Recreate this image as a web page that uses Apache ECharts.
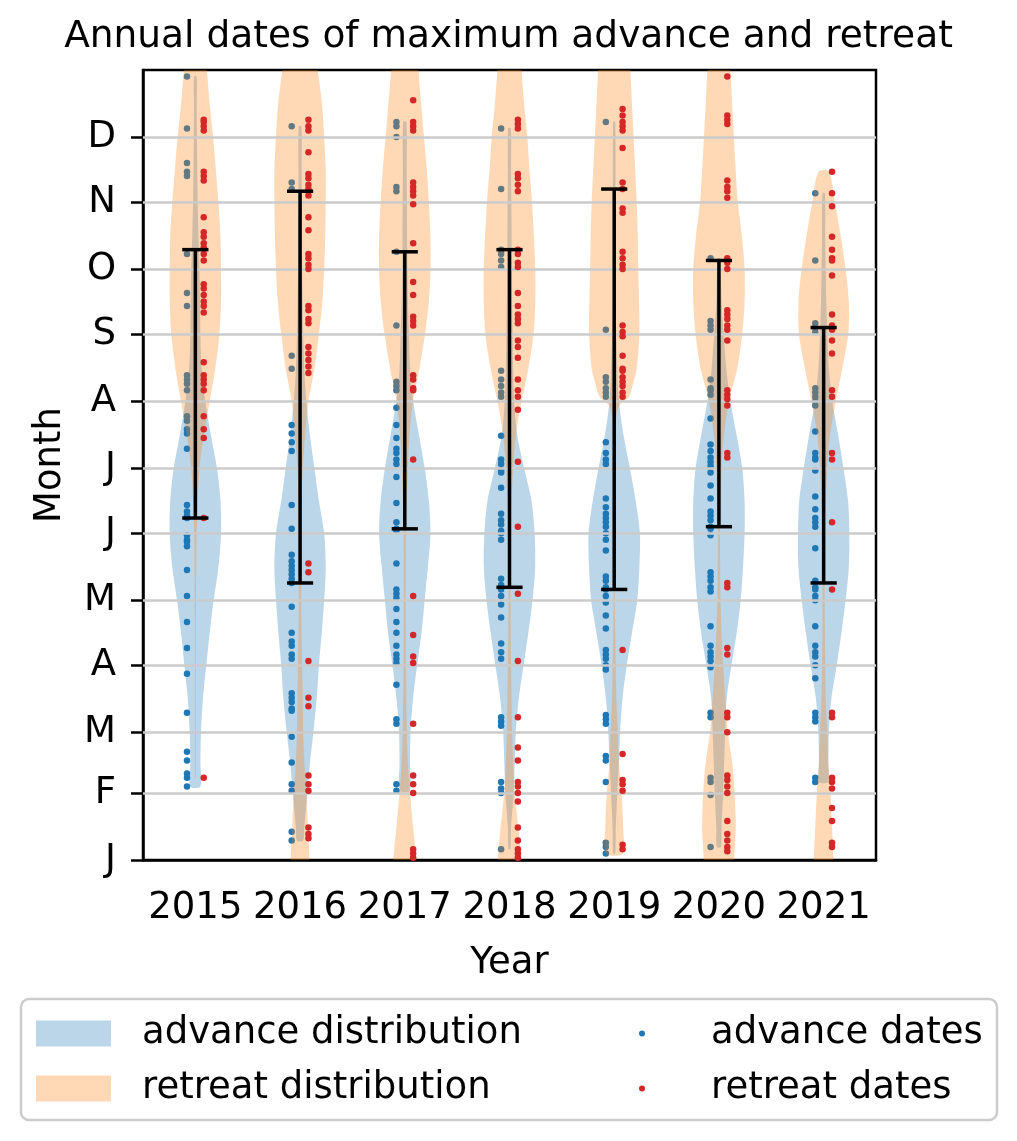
<!DOCTYPE html>
<html>
<head>
<meta charset="utf-8">
<script src="https://cdn.jsdelivr.net/npm/echarts@6/dist/echarts.min.js"></script>
<style>
html, body { margin: 0; padding: 0; background: #fff; }
#chart { width: 1017px; height: 1141px; }
</style>
</head>
<body>
<div id="chart"></div>
<script>
var years = ['2015', '2016', '2017', '2018', '2019', '2020', '2021'];
var monthStarts = [0, 31, 59, 90, 120, 151, 181, 212, 243, 273, 304, 334];
var monthLetters = ['J', 'F', 'M', 'A', 'M', 'J', 'J', 'A', 'S', 'O', 'N', 'D'];

// day of year of the maximum advance, one list per year
var advanceDates = [
	[362,338,322,318,316,280,262,256,224,222,220,217,205,203,199,197,190,164,161,159,158,150,148,147,145,134,122,110,98,86,68,50,46,40,38,34],
	[339,313,310,233,227,201,197,193,189,164,153,141,138,136,134,132,130,128,117,105,101,99,95,93,77,75,73,70,69,57,45,35,32,13,9],
	[341,339,334,311,309,281,247,221,219,217,209,201,195,190,188,185,183,177,165,156,153,152,137,125,123,121,116,110,105,99,95,93,91,81,65,63,35,32],
	[338,310,282,280,277,274,226,222,219,216,214,196,185,183,180,179,172,160,157,155,152,151,148,130,127,125,122,118,112,100,96,93,66,64,62,36,33,31,5],
	[341,245,223,221,218,216,214,193,188,185,183,167,163,160,158,156,154,151,148,143,131,129,126,125,122,119,113,107,97,95,93,90,88,67,65,63,48,46,36,8,6,3],
	[278,249,247,245,222,218,217,215,204,192,189,186,184,182,179,173,167,161,159,157,154,153,150,133,131,129,126,124,108,99,96,94,92,89,68,66,38,36,30,6],
	[308,277,248,246,244,218,216,214,212,210,198,188,186,185,180,168,162,158,156,154,144,129,126,125,122,120,108,99,96,94,90,84,68,66,64,38,36]
];

// day of year of the maximum retreat, one list per year
var retreatDates = [
	[342,341,339,337,318,316,314,297,290,288,285,283,280,277,266,264,261,258,256,253,230,224,222,220,217,205,199,195,158,38],
	[342,339,337,327,317,315,312,310,307,297,291,280,278,275,273,256,254,250,248,237,234,231,228,225,137,133,92,75,71,39,35,32,15,12,10],
	[351,341,339,337,313,311,309,307,303,285,267,261,251,249,247,224,222,218,217,185,122,104,94,91,63,39,35,31,5,3,1],
	[342,340,338,317,315,312,309,282,280,276,274,262,256,252,250,248,240,237,232,222,217,214,208,184,154,123,92,66,52,46,36,34,31,27,15,9,5,3,1],
	[347,344,341,339,337,329,313,310,301,299,281,278,275,273,247,244,242,233,227,226,223,221,219,216,214,97,49,37,35,32,7,5],
	[362,344,342,340,314,311,309,306,278,276,273,254,252,250,247,245,240,217,215,213,210,188,186,128,126,98,95,68,66,59,39,37,34,31,18,12,9,6,4],
	[318,308,302,288,282,278,277,270,252,247,245,240,234,217,214,188,185,156,125,68,66,38,36,33,24,18,8,6]
];

// black bars from advance to retreat
var barLow = [158, 128, 153, 126, 125, 154, 128];
var barHigh = [282, 309, 281, 282, 310, 277, 246];

// violin outlines: [day, half width in years]
var advanceViolins = [
	[[34,0.048],[45,0.048],[59,0.054],[75,0.073],[90,0.105],[105,0.137],[120,0.175],[135,0.22],[151,0.245],[166,0.24],[181,0.207],[196,0.15],[212,0.095],[227,0.06],[243,0.048],[258,0.045],[273,0.04],[288,0.03],[304,0.022],[319,0.018],[334,0.015],[349,0.013],[362,0.012]],
	[[9,0.03],[15,0.04],[31,0.07],[45,0.095],[59,0.127],[75,0.16],[90,0.18],[105,0.207],[120,0.23],[135,0.245],[151,0.23],[166,0.18],[181,0.137],[196,0.095],[212,0.06],[227,0.04],[243,0.03],[258,0.025],[273,0.02],[288,0.018],[304,0.016],[319,0.015],[339,0.013]],
	[[32,0.048],[45,0.05],[59,0.055],[75,0.08],[90,0.118],[105,0.16],[120,0.19],[135,0.22],[151,0.245],[166,0.23],[181,0.19],[196,0.137],[212,0.08],[227,0.05],[243,0.04],[258,0.03],[273,0.025],[288,0.022],[304,0.02],[319,0.018],[341,0.015]],
	[[5,0.01],[15,0.015],[31,0.04],[45,0.05],[59,0.06],[75,0.09],[90,0.135],[105,0.18],[120,0.22],[135,0.245],[151,0.24],[166,0.21],[181,0.14],[196,0.075],[212,0.045],[227,0.035],[243,0.03],[258,0.025],[273,0.022],[288,0.02],[304,0.018],[319,0.015],[338,0.013]],
	[[3,0.01],[15,0.015],[31,0.03],[45,0.045],[59,0.056],[75,0.08],[90,0.12],[105,0.17],[120,0.22],[135,0.24],[151,0.245],[166,0.205],[181,0.15],[196,0.09],[212,0.045],[227,0.03],[243,0.02],[258,0.014],[290,0.012],[341,0.01]],
	[[6,0.02],[15,0.025],[31,0.04],[45,0.05],[59,0.06],[75,0.075],[90,0.12],[105,0.17],[120,0.207],[135,0.23],[151,0.245],[166,0.245],[181,0.223],[196,0.17],[212,0.11],[227,0.07],[243,0.045],[258,0.025],[278,0.012]],
	[[36,0.042],[45,0.045],[59,0.05],[75,0.075],[90,0.125],[105,0.17],[120,0.21],[135,0.24],[151,0.245],[166,0.233],[181,0.19],[196,0.14],[212,0.083],[227,0.05],[243,0.035],[258,0.025],[273,0.02],[288,0.015],[308,0.012]]
];
var retreatViolins = [
	[[38,0.004],[59,0.004],[90,0.004],[120,0.006],[135,0.008],[151,0.012],[166,0.022],[181,0.04],[196,0.08],[212,0.137],[227,0.19],[243,0.23],[258,0.245],[273,0.245],[288,0.24],[304,0.22],[319,0.195],[334,0.17],[349,0.137],[365,0.11],[375,0.09]],
	[[-10,0.085],[0,0.09],[15,0.075],[31,0.06],[45,0.04],[59,0.03],[75,0.025],[90,0.02],[105,0.015],[120,0.012],[151,0.012],[166,0.015],[181,0.025],[196,0.048],[212,0.08],[227,0.137],[243,0.18],[258,0.213],[273,0.23],[288,0.24],[304,0.245],[319,0.245],[334,0.23],[349,0.21],[365,0.17],[375,0.15]],
	[[-10,0.12],[0,0.11],[15,0.08],[31,0.05],[45,0.03],[59,0.02],[75,0.015],[90,0.012],[105,0.01],[135,0.01],[151,0.012],[166,0.018],[181,0.03],[196,0.045],[212,0.078],[227,0.14],[243,0.193],[258,0.23],[273,0.246],[288,0.245],[304,0.23],[319,0.21],[334,0.183],[349,0.157],[365,0.13],[375,0.12]],
	[[-10,0.12],[0,0.113],[15,0.085],[31,0.05],[45,0.035],[59,0.025],[75,0.02],[90,0.015],[105,0.012],[120,0.01],[135,0.01],[151,0.012],[166,0.02],[181,0.035],[196,0.06],[212,0.115],[227,0.18],[243,0.23],[258,0.246],[273,0.246],[288,0.233],[304,0.215],[319,0.19],[334,0.17],[349,0.14],[365,0.115],[375,0.1]],
	[[3,0.08],[15,0.085],[31,0.07],[45,0.045],[59,0.035],[75,0.02],[90,0.015],[105,0.01],[120,0.006],[166,0.006],[196,0.012],[205,0.02],[210,0.05],[214,0.14],[220,0.18],[227,0.215],[243,0.24],[258,0.237],[273,0.23],[288,0.225],[304,0.215],[319,0.2],[334,0.185],[349,0.17],[365,0.155],[375,0.15]],
	[[-10,0.14],[0,0.145],[15,0.16],[31,0.15],[45,0.127],[59,0.085],[75,0.06],[90,0.04],[105,0.025],[120,0.015],[135,0.012],[151,0.01],[166,0.015],[181,0.025],[196,0.047],[212,0.095],[227,0.175],[243,0.223],[258,0.245],[273,0.245],[288,0.22],[304,0.18],[319,0.16],[334,0.143],[349,0.127],[365,0.11],[375,0.1]],
	[[-10,0.1],[0,0.095],[15,0.08],[31,0.065],[45,0.045],[59,0.035],[75,0.02],[90,0.015],[105,0.012],[120,0.01],[135,0.01],[151,0.012],[166,0.02],[181,0.035],[196,0.06],[212,0.115],[227,0.178],[243,0.235],[258,0.24],[273,0.21],[288,0.165],[304,0.107],[318,0.05]]
];

var FONT = 'DejaVu Sans';
var blueFill = 'rgba(31,119,180,0.3)';
var orangeFill = 'rgba(255,127,14,0.3)';

var chart = echarts.init(document.getElementById('chart'));

function toPoints(lists, shift) {
	var out = [];
	lists.forEach(function (days, i) {
		days.forEach(function (d) { out.push([i + shift, d]); });
	});
	return out;
}

function violinRenderer(outlines, color) {
	return function (params, api) {
		var i = params.dataIndex;
		var outline = outlines[i];
		var pts = [];
		outline.forEach(function (p) { pts.push(api.coord([i + p[1], p[0]])); });
		for (var k = outline.length - 1; k >= 0; k--) {
			pts.push(api.coord([i - outline[k][1], outline[k][0]]));
		}
		return {
			type: 'polygon',
			shape: { points: pts, smooth: 0.3 },
			style: { fill: color }
		};
	};
}

function renderBar(params, api) {
	var i = params.dataIndex;
	var lo = api.coord([i, barLow[i]]);
	var hi = api.coord([i, barHigh[i]]);
	var half = api.size([0.125, 0])[0];
	var st = { stroke: '#000', lineWidth: 3.5 };
	return {
		type: 'group',
		children: [
			{ type: 'line', shape: { x1: lo[0], y1: lo[1], x2: hi[0], y2: hi[1] }, style: st },
			{ type: 'line', shape: { x1: lo[0] - half, y1: lo[1], x2: lo[0] + half, y2: lo[1] }, style: st },
			{ type: 'line', shape: { x1: hi[0] - half, y1: hi[1], x2: hi[0] + half, y2: hi[1] }, style: st }
		]
	};
}

var idx = years.map(function (y, i) { return [i, 0]; });

var option = {
	animation: false,
	textStyle: { fontFamily: FONT },
	title: {
		text: 'Annual dates of maximum advance and retreat',
		left: 'center',
		top: 13,
		textStyle: { fontFamily: FONT, fontSize: 37.5, fontWeight: 'normal', color: '#000' }
	},
	grid: {
		left: 143, right: 141, top: 70, bottom: 281,
		show: true, borderColor: '#000', borderWidth: 2.5, backgroundColor: 'transparent'
	},
	xAxis: [{
		type: 'category',
		data: years,
		boundaryGap: true,
		axisLine: { lineStyle: { color: '#000', width: 2.5 } },
		axisTick: { alignWithLabel: true, length: 12, lineStyle: { color: '#000', width: 2.5 } },
		axisLabel: { color: '#000', fontSize: 37, fontFamily: FONT, margin: 30, interval: 0 },
		splitLine: { show: false },
		name: 'Year',
		nameLocation: 'middle',
		nameGap: 85,
		nameTextStyle: { color: '#000', fontSize: 37, fontFamily: FONT }
	}, {
		type: 'value',
		min: -0.5,
		max: 6.5,
		show: false
	}],
	yAxis: {
		type: 'value',
		min: 0,
		max: 365,
		axisLine: { show: true, onZero: false, lineStyle: { color: '#000', width: 2.5 } },
		axisTick: { show: true, length: 12, customValues: monthStarts, lineStyle: { color: '#000', width: 2.5 } },
		axisLabel: {
			color: '#000', fontSize: 37, fontFamily: FONT, margin: 27,
			customValues: monthStarts,
			formatter: function (v) {
				var k = monthStarts.indexOf(v);
				return k < 0 ? '' : monthLetters[k];
			}
		},
		splitLine: { show: false },
		name: 'Month',
		nameLocation: 'middle',
		nameRotate: 90,
		nameGap: 74,
		nameTextStyle: { color: '#000', fontSize: 37, fontFamily: FONT }
	},
	legend: [{
		data: ['advance distribution', 'retreat distribution'],
		orient: 'vertical',
		left: 31,
		top: 1010,
		icon: 'rect',
		itemWidth: 75,
		itemHeight: 26,
		itemGap: 18,
		selectedMode: false,
		z: 5,
		textStyle: { fontFamily: FONT, fontSize: 37, lineHeight: 37, color: '#000', padding: [0, 0, 0, 26] }
	}, {
		data: ['advance dates', 'retreat dates'],
		orient: 'vertical',
		left: 634,
		top: 1010,
		icon: 'circle',
		itemWidth: 6,
		itemHeight: 6,
		itemGap: 18,
		selectedMode: false,
		z: 5,
		textStyle: { fontFamily: FONT, fontSize: 37, lineHeight: 37, color: '#000', padding: [0, 0, 0, 61] }
	}],
	graphic: [{
		type: 'rect',
		z: 1,
		shape: { x: 21, y: 999, width: 976, height: 121, r: 8 },
		style: { fill: '#fff', stroke: '#cccccc', lineWidth: 2.5 }
	}],
	series: [{
		name: 'grid',
		type: 'line',
		xAxisIndex: 1,
		data: [],
		z: 0,
		markLine: {
			silent: true,
			symbol: 'none',
			label: { show: false },
			lineStyle: { color: '#cbcbcb', width: 2.5, type: 'solid' },
			data: monthStarts.slice(1).map(function (d) { return { yAxis: d }; })
		}
	}, {
		name: 'advance distribution',
		type: 'custom',
		xAxisIndex: 1,
		clip: true,
		itemStyle: { color: blueFill },
		renderItem: violinRenderer(advanceViolins, blueFill),
		data: idx,
		z: 2
	}, {
		name: 'advance dates',
		type: 'scatter',
		xAxisIndex: 1,
		symbol: 'circle',
		symbolSize: 6.5,
		itemStyle: { color: '#1f77b4', opacity: 1 },
		data: toPoints(advanceDates, -0.08),
		z: 3
	}, {
		name: 'retreat distribution',
		type: 'custom',
		xAxisIndex: 1,
		clip: true,
		itemStyle: { color: orangeFill },
		renderItem: violinRenderer(retreatViolins, orangeFill),
		data: idx,
		z: 4
	}, {
		name: 'retreat dates',
		type: 'scatter',
		xAxisIndex: 1,
		symbol: 'circle',
		symbolSize: 6.5,
		itemStyle: { color: '#d62728', opacity: 1 },
		data: toPoints(retreatDates, 0.08),
		z: 5
	}, {
		name: 'bars',
		type: 'custom',
		xAxisIndex: 1,
		renderItem: renderBar,
		data: idx,
		z: 6
	}]
};

chart.setOption(option);
</script>
</body>
</html>
